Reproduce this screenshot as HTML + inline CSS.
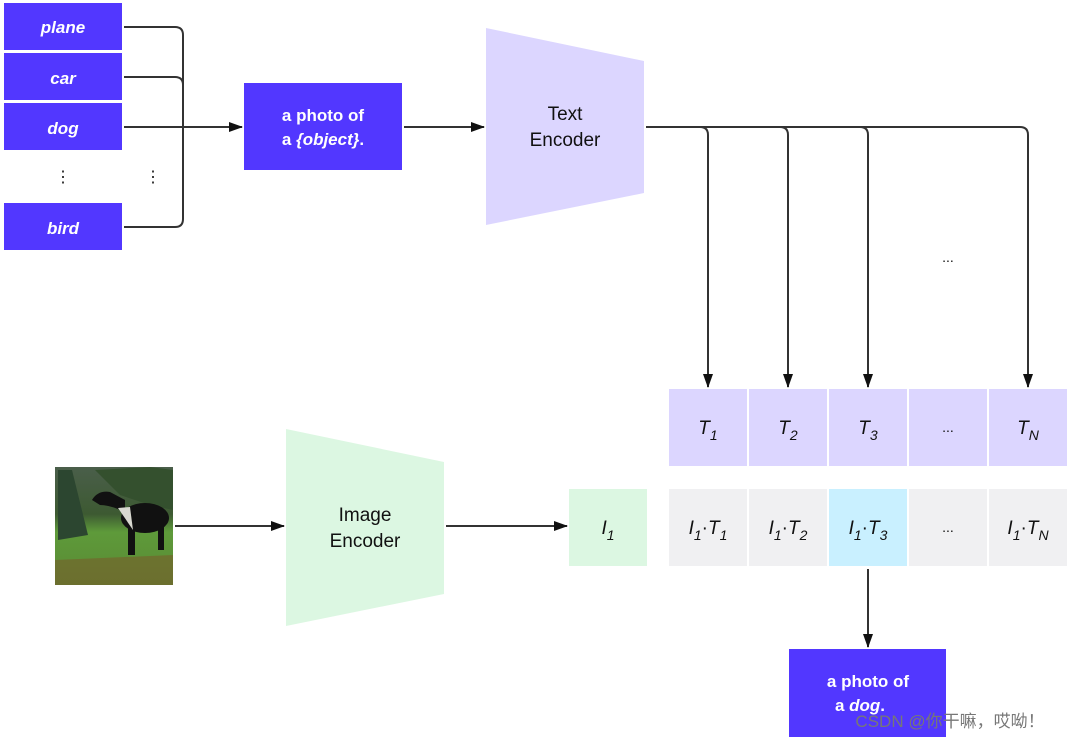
<!DOCTYPE html>
<html><head><meta charset="utf-8"><style>
html,body{margin:0;padding:0;background:#fff;}
svg{display:block}
text{font-family:"Liberation Sans",sans-serif;}
</style></head><body>
<svg width="1070" height="741" viewBox="0 0 1070 741" xmlns="http://www.w3.org/2000/svg">
<defs>
<marker id="a" markerWidth="14" markerHeight="10" refX="13" refY="5" orient="auto" markerUnits="userSpaceOnUse"><path d="M0,0 L14,5 L0,10 z" fill="#111"/></marker>
<linearGradient id="sky" x1="0" y1="0" x2="0" y2="1">
<stop offset="0" stop-color="#4a5e4a"/><stop offset="0.4" stop-color="#3d5a32"/><stop offset="0.55" stop-color="#5e9a3a"/><stop offset="1" stop-color="#5a8a34"/></linearGradient>
</defs>
<g fill="#5237ff">
<rect x="4" y="3" width="118" height="47"/>
<rect x="4" y="53" width="118" height="47"/>
<rect x="4" y="103" width="118" height="47"/>
<rect x="4" y="203" width="118" height="47"/>
<rect x="244" y="83" width="158" height="87"/>
<rect x="789" y="649" width="157" height="88"/>
</g>
<g fill="#fff" font-weight="bold" font-style="italic" font-size="17" text-anchor="middle">
<text x="63" y="33">plane</text>
<text x="63" y="84">car</text>
<text x="63" y="134">dog</text>
<text x="63" y="234">bird</text>
</g>
<g fill="#111" font-size="16" text-anchor="middle"><text x="63" y="182">⋮</text><text x="153" y="182">⋮</text></g>
<g fill="#fff" font-weight="bold" font-size="17" text-anchor="middle">
<text x="323" y="121">a photo of</text>
<text x="323" y="145">a <tspan font-style="italic">{object}</tspan>.</text>
<text x="868" y="687">a photo of</text>
<text x="860" y="711">a <tspan font-style="italic">dog</tspan>.</text>
</g>
<g fill="none" stroke="#333" stroke-width="2">
<path d="M124,27 H175 Q183,27 183,35 V219 Q183,227 175,227 H124"/>
<path d="M124,77 H175 Q183,77 183,85 V127"/>
<path d="M124,127 H242" marker-end="url(#a)"/>
<path d="M404,127 H484" marker-end="url(#a)"/>
<path d="M646,127 H1020 Q1028,127 1028,135 V387" marker-end="url(#a)"/>
<path d="M700,127 Q708,127 708,135 V387" marker-end="url(#a)"/>
<path d="M780,127 Q788,127 788,135 V387" marker-end="url(#a)"/>
<path d="M860,127 Q868,127 868,135 V387" marker-end="url(#a)"/>
<path d="M175,526 H284" marker-end="url(#a)"/>
<path d="M446,526 H567" marker-end="url(#a)"/>
<path d="M868,569 V647" marker-end="url(#a)"/>
</g>
<polygon points="486,28 644,61 644,193 486,225" fill="#dcd6ff"/>
<polygon points="286,429 444,462 444,594 286,626" fill="#dcf7e2"/>
<g font-size="19" fill="#111" text-anchor="middle">
<text x="565" y="120">Text</text><text x="565" y="146">Encoder</text>
<text x="365" y="521">Image</text><text x="365" y="547">Encoder</text>
</g>
<text x="948" y="262" font-size="14" fill="#111" text-anchor="middle">...</text>
<g fill="#dcd6ff">
<rect x="669" y="389" width="78" height="77"/><rect x="749" y="389" width="78" height="77"/>
<rect x="829" y="389" width="78" height="77"/><rect x="909" y="389" width="78" height="77"/>
<rect x="989" y="389" width="78" height="77"/>
</g>
<g fill="#f0f0f2">
<rect x="669" y="489" width="78" height="77"/><rect x="749" y="489" width="78" height="77"/>
<rect x="909" y="489" width="78" height="77"/><rect x="989" y="489" width="78" height="77"/>
</g>
<rect x="829" y="489" width="78" height="77" fill="#c9f0ff"/>
<rect x="569" y="489" width="78" height="77" fill="#dcf7e2"/>
<g font-size="19" font-style="italic" fill="#111" text-anchor="middle">
<text x="708" y="434">T<tspan font-size="14" dy="6">1</tspan></text>
<text x="788" y="434">T<tspan font-size="14" dy="6">2</tspan></text>
<text x="868" y="434">T<tspan font-size="14" dy="6">3</tspan></text>
<text x="1028" y="434">T<tspan font-size="14" dy="6">N</tspan></text>
<text x="608" y="534">I<tspan font-size="14" dy="6">1</tspan></text>
<text x="708" y="534">I<tspan font-size="14" dy="6">1</tspan><tspan dy="-6" font-style="normal">·</tspan>T<tspan font-size="14" dy="6">1</tspan></text>
<text x="788" y="534">I<tspan font-size="14" dy="6">1</tspan><tspan dy="-6" font-style="normal">·</tspan>T<tspan font-size="14" dy="6">2</tspan></text>
<text x="868" y="534">I<tspan font-size="14" dy="6">1</tspan><tspan dy="-6" font-style="normal">·</tspan>T<tspan font-size="14" dy="6">3</tspan></text>
<text x="1028" y="534">I<tspan font-size="14" dy="6">1</tspan><tspan dy="-6" font-style="normal">·</tspan>T<tspan font-size="14" dy="6">N</tspan></text>
</g>
<g font-size="14" fill="#111" text-anchor="middle"><text x="948" y="432">...</text><text x="948" y="532">...</text></g>
<!-- photo -->
<rect x="55" y="467" width="118" height="118" fill="url(#sky)"/>
<path d="M58,470 L72,470 L88,535 L58,540 z" fill="#2c4630"/>
<path d="M95,470 L150,467 L173,470 L173,510 L150,505 L120,495 z" fill="#34502e"/>
<ellipse cx="145" cy="518" rx="24" ry="15" fill="#111"/>
<path d="M92,500 Q98,490 110,492 L125,500 L125,512 Q110,505 100,505 Z" fill="#111"/>
<rect x="128" y="525" width="7" height="30" fill="#111"/>
<rect x="158" y="525" width="6" height="25" fill="#111"/>
<path d="M118,508 L130,507 L133,530 Z" fill="#d8d8d0"/>
<path d="M55,560 L173,555 L173,585 L55,585 z" fill="#7a5a2a" opacity="0.55"/>
<text x="950" y="727" font-family="Liberation Sans, Noto Sans CJK SC, sans-serif" font-size="17" fill="#777" text-anchor="middle">CSDN @你干嘛，哎呦！</text>
</svg>
</body></html>
